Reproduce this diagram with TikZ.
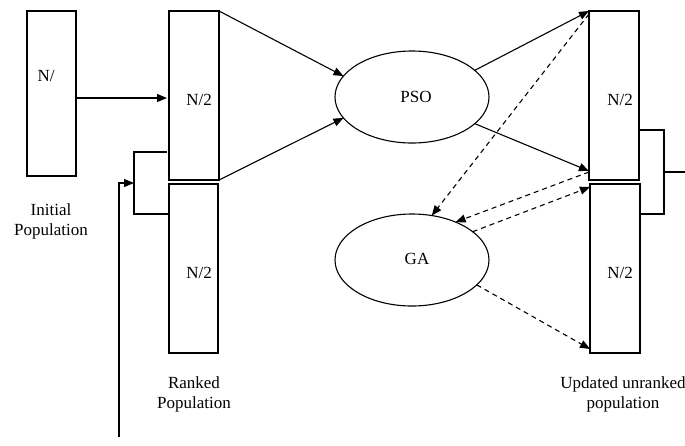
\documentclass[tikz,border=0pt]{standalone}
\usepackage{fontspec}
\setmainfont{Liberation Serif}
\usetikzlibrary{shapes.geometric,arrows.meta}
\tikzset{
  box/.style={draw, line width=1.1pt, rectangle, inner sep=0pt, outer sep=0pt},
  oval/.style={draw, line width=1.1pt, ellipse, inner sep=0pt, outer sep=0pt, minimum width=154pt, minimum height=92pt},
  lbl/.style={inner sep=0pt, font=\fontsize{17}{20}\selectfont, align=center},
  conn/.style={line width=1.1pt},
  arr/.style={line width=1.1pt, -{Triangle[length=10pt,width=8pt]}},
  darr/.style={arr, dash pattern=on 5pt off 4pt},
}
\begin{document}
\begin{tikzpicture}[x=1pt,y=-1pt]
\useasboundingbox (0,0) rectangle (685,445);
% boxes
\node[box, minimum width=49pt, minimum height=165pt] (init) at (51.5,93.5) {};
\node[box, minimum width=50pt, minimum height=169pt] (rt) at (194,95.5) {};
\node[box, minimum width=49pt, minimum height=169pt] (rb) at (193.5,268.5) {};
\node[box, minimum width=50pt, minimum height=169pt] (ut) at (614,95.5) {};
\node[box, minimum width=50pt, minimum height=169pt] (ub) at (615,268.5) {};
% ellipses
\node[oval] (pso) at (412,97) {};
\node[oval] (ga) at (412,260) {};
% texts
\node[lbl] (t1) at (46,76) {N/};
\node[lbl] (t2) at (199,100) {N/2};
\node[lbl] (t3) at (199,273) {N/2};
\node[lbl] (t4) at (620,100) {N/2};
\node[lbl] (t5) at (620,273) {N/2};
\node[lbl] (t6) at (416,97) {PSO};
\node[lbl] (t7) at (417,259) {GA};
\node[lbl] (l1) at (51,221) {Initial\\Population};
\node[lbl] (l2) at (194,394) {Ranked\\Population};
\node[lbl] (l3) at (623,394) {Updated unranked\\population};
% coordinates
\coordinate (lbt) at (134,152);
\coordinate (lbb) at (134,214);
\coordinate (lbm) at (134,183);
\coordinate (lst) at (119,437);
\coordinate (rbt) at (664,130);
\coordinate (rbb) at (664,214);
\coordinate (rbm) at (664,172);
\coordinate (rend) at (685,172);
% connectors
\draw[arr] ([yshift=-4.5pt]init.east) -- ([yshift=-2.5pt,xshift=-2pt]rt.west);
\draw[arr] (rt.north east) -- (pso.163);
\draw[arr] (rt.south east) -- (pso.197);
\draw[arr] (pso.23) -- (ut.north west);
\draw[arr] (pso.-23) -- ([yshift=9pt]ut.south west);
\draw[darr] ([yshift=-3pt]ut.north west) -- (ga.66);
\draw[darr] ([yshift=8pt]ut.south west) -- (ga.41);
\draw[darr] (ga.25) -- ([yshift=-3pt]ub.north west);
\draw[darr] (ga.-21) -- ([yshift=4pt]ub.south west);
% brackets
\draw[conn] ([xshift=-2pt]rt.west |- lbt) -- (lbt) -- (lbb) -- ([xshift=-1.5pt]rb.west |- lbb);
\draw[arr] (lst) |- (lbm);
\draw[conn] (ut.east |- rbt) -- (rbt) -- (rbb) -- (ub.east |- rbb);
\draw[conn] (rbm) -- (rend);
\end{tikzpicture}
\end{document}
